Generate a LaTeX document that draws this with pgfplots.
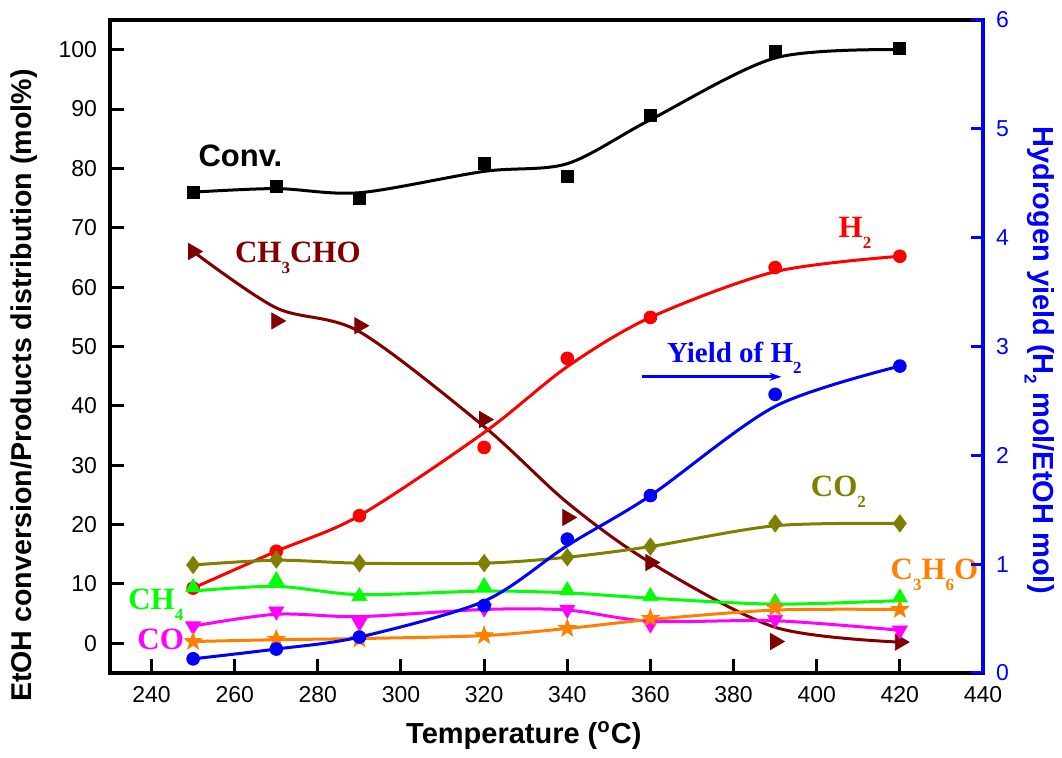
\documentclass[border=0pt]{standalone}
\usepackage{fontspec}
\setmainfont{Liberation Sans}
\newfontfamily\tnr{Liberation Serif}
\usepackage{pgfplots}
\pgfplotsset{compat=1.18}
\usetikzlibrary{arrows.meta}

\definecolor{cdred}{RGB}{128,0,0}
\definecolor{colive}{RGB}{128,128,0}
\definecolor{cgreen}{RGB}{0,255,0}
\definecolor{corange}{RGB}{255,128,0}
\definecolor{cmag}{RGB}{255,0,255}
\definecolor{cblue}{RGB}{0,0,255}
\definecolor{cred}{RGB}{255,0,0}

\newcommand{\sub}[1]{\raisebox{-5.5pt}{\fontsize{8.5}{9}\selectfont #1}}
\newcommand{\subs}[1]{\raisebox{-4.5pt}{\fontsize{8.5}{9}\selectfont #1}}

\pgfdeclareplotmark{fstar}{%
 \pgfpathmoveto{\pgfpointpolar{90}{1.35\pgfplotmarksize}}%
 \pgfpathlineto{\pgfpointpolar{126}{0.55\pgfplotmarksize}}%
 \pgfpathlineto{\pgfpointpolar{162}{1.35\pgfplotmarksize}}%
 \pgfpathlineto{\pgfpointpolar{198}{0.55\pgfplotmarksize}}%
 \pgfpathlineto{\pgfpointpolar{234}{1.35\pgfplotmarksize}}%
 \pgfpathlineto{\pgfpointpolar{270}{0.55\pgfplotmarksize}}%
 \pgfpathlineto{\pgfpointpolar{306}{1.35\pgfplotmarksize}}%
 \pgfpathlineto{\pgfpointpolar{342}{0.55\pgfplotmarksize}}%
 \pgfpathlineto{\pgfpointpolar{18}{1.35\pgfplotmarksize}}%
 \pgfpathlineto{\pgfpointpolar{54}{0.55\pgfplotmarksize}}%
 \pgfpathclose
 \pgfusepathqfillstroke}

\pgfplotsset{
 curve/.style={smooth, no marks, line width=1.5pt},
 pts/.style={only marks, mark size=3.2pt},
}

\begin{document}
\begin{tikzpicture}
\begin{axis}[
 scale only axis, width=436.5pt, height=326.5pt,
 xmin=230, xmax=440, ymin=-5, ymax=105,
 xtick={240,260,...,440}, ytick={0,10,...,100},
 xtick pos=left, ytick pos=left,
 tick align=inside, major tick length=7pt,
 axis line style={line width=2pt},
 every tick/.style={black, line width=1.5pt},
 /pgf/number format/assume math mode=true,
 ticklabel style={font=\fontsize{11.5}{13}\selectfont},
 xticklabel style={yshift=-3pt},
 yticklabel style={xshift=-3pt},
 xlabel={Temperature (\textsuperscript{o}C)},
 ylabel={EtOH conversion/Products distribution (mol\%)},
 xlabel style={font=\fontsize{14.5}{16}\selectfont\bfseries, at={(axis description cs:0.474,-0.096)}, anchor=center},
 ylabel style={font=\fontsize{14.3}{16}\selectfont\bfseries, at={(axis description cs:-0.0985,0.44)}, anchor=center},
]
% curves
\addplot[curve, black] coordinates {(250,76) (270,76.6) (290,75.9) (320,79.5) (340,80.8) (360,88.2) (390,98.6) (420,100)};
\addplot[curve, cdred] coordinates {(250,66) (270,56.5) (290,52.5) (320,36.5) (340,23.7) (360,13.6) (390,2.7) (420,0.2)};
\addplot[curve, cred] coordinates {(250,9.3) (270,15.5) (290,21.5) (320,35.5) (340,46.6) (360,54.9) (390,62.6) (420,65.2)};
\addplot[curve, colive] coordinates {(250,13.2) (270,14) (290,13.5) (320,13.5) (340,14.5) (360,16.3) (390,19.8) (420,20.2)};
\addplot[curve, cgreen] coordinates {(250,8.8) (270,9.6) (290,8.2) (320,8.8) (340,8.5) (360,7.6) (390,6.6) (420,7.2)};
\addplot[curve, cmag] coordinates {(250,2.9) (270,4.9) (290,4.5) (320,5.7) (340,5.6) (360,3.7) (390,3.8) (420,2.2)};
\addplot[curve, corange] coordinates {(250,0.3) (270,0.6) (290,0.8) (320,1.3) (340,2.5) (360,4.0) (390,5.6) (420,5.7)};
% markers
\addplot[pts, black, mark=square*, mark size=3pt] coordinates {(250,76) (270,76.9) (290,75) (320,80.8) (340,78.6) (360,88.9) (390,99.7) (420,100.2)};
\addplot[pts, cdred, mark=triangle*, mark options={rotate=-90}, mark size=4.6pt] coordinates {(250,66) (270,54.3) (290,53.5) (320,37.7) (340,21.2) (360,13.6) (390,0.3) (420,0.2)};
\addplot[pts, cred, mark=*] coordinates {(250,9.3) (270,15.5) (290,21.5) (320,33) (340,48) (360,54.9) (390,63.3) (420,65.2)};
\addplot[pts, colive, mark=diamond*, mark size=4.3pt] coordinates {(250,13.2) (270,14.1) (290,13.5) (320,13.5) (340,14.5) (360,16.3) (390,20.2) (420,20.2)};
\addplot[pts, cgreen, mark=triangle*, mark size=4.3pt] coordinates {(250,9.4) (270,10.6) (290,7.9) (320,9.6) (340,8.9) (360,7.9) (390,6.9) (420,7.7)};
\addplot[pts, cmag, mark=triangle*, mark options={rotate=180}, mark size=4.3pt] coordinates {(250,2.9) (270,5.4) (290,3.5) (320,5.9) (340,5.7) (360,3.2) (390,4.0) (420,2.2)};
\addplot[pts, corange, mark=fstar, mark size=3.4pt] coordinates {(250,0.3) (270,0.7) (290,0.7) (320,1.3) (340,2.5) (360,4.2) (390,6.0) (420,5.7)};
% annotations
\node[anchor=base west, inner sep=0pt, font=\fontsize{15.5}{17}\selectfont\bfseries] at (axis cs:251.2,80.3) {Conv.};
\node[anchor=base west, inner sep=0pt, text=cdred, font=\tnr\fontsize{15.5}{17}\selectfont\bfseries] at (axis cs:260,64.1) {CH\sub{3}CHO};
\node[anchor=base west, inner sep=0pt, text=cred, font=\tnr\fontsize{15.5}{17}\selectfont\bfseries] at (axis cs:405.2,68.4) {H\sub{2}};
\node[anchor=base west, inner sep=0pt, text=cblue, font=\tnr\fontsize{14.5}{16}\selectfont\bfseries] at (axis cs:363.9,47.3) {Yield of H\sub{2}};
\draw[cblue, line width=1.5pt, -{Stealth[length=6pt,width=4pt]}] (axis cs:357.9,44.9) -- (axis cs:391.5,44.9);
\node[anchor=base west, inner sep=0pt, text=colive, font=\tnr\fontsize{15.5}{17}\selectfont\bfseries] at (axis cs:398.5,24.7) {CO\sub{2}};
\node[anchor=base west, inner sep=0pt, text=cgreen, font=\tnr\fontsize{15.5}{17}\selectfont\bfseries] at (axis cs:234.3,5.7) {CH\sub{4}};
\node[anchor=base west, inner sep=0pt, text=cmag, font=\tnr\fontsize{15.5}{17}\selectfont\bfseries] at (axis cs:236.5,-1.0) {CO};
\node[anchor=base west, inner sep=0pt, text=corange, font=\tnr\fontsize{15.5}{17}\selectfont\bfseries] at (axis cs:417.7,10.8) {C\sub{3}H\sub{6}O};
\end{axis}
\begin{axis}[
 scale only axis, width=436.5pt, height=326.5pt,
 xmin=230, xmax=440, ymin=0, ymax=6,
 axis y line*=right, axis x line=none,
 ytick={0,1,...,6},
 tick align=inside, major tick length=6pt,
 axis line style={cblue, line width=2pt},
 every tick/.style={cblue, line width=1.5pt},
 /pgf/number format/assume math mode=true,
 yticklabel style={cblue, font=\fontsize{11.5}{13}\selectfont, xshift=3pt},
 ylabel={Hydrogen yield (H\subs{2} mol/EtOH mol)},
 ylabel style={cblue, font=\fontsize{14.5}{16}\selectfont\bfseries, at={(axis description cs:1.065,0.479)}, anchor=center, rotate=180},
]
\addplot[curve, cblue] coordinates {(250,0.13) (270,0.22) (290,0.33) (320,0.66) (340,1.17) (360,1.63) (390,2.45) (420,2.82)};
\addplot[pts, cblue, mark=*] coordinates {(250,0.13) (270,0.22) (290,0.33) (320,0.62) (340,1.23) (360,1.63) (390,2.56) (420,2.82)};
\end{axis}
\pgfresetboundingbox
\path[use as bounding box] (-55pt,-42.5pt) rectangle (476pt,336.5pt);
\end{tikzpicture}
\end{document}
